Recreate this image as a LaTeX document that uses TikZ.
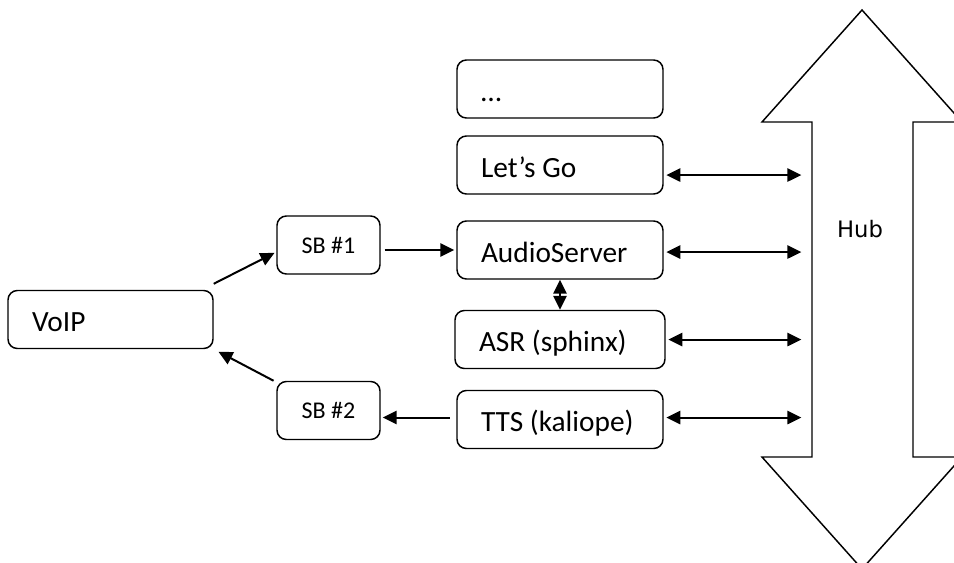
\documentclass[tikz,border=0pt]{standalone}
\usepackage{fontspec}
\setmainfont{Carlito}
\newfontfamily\hubfont{DejaVu Sans}
\usetikzlibrary{positioning, arrows.meta}

\tikzset{
  box/.style={draw, line width=1.1pt, rounded corners=7pt, minimum height=43.5pt, inner ysep=0pt},
  modbox/.style={box, text width=#1, inner xsep=18pt, text height=20pt, text depth=2pt,
    font=\fontsize{22}{26}\selectfont, execute at begin node={\spaceskip=0.226em\relax}},
  modbox/.default=118.5pt,
  sbbox/.style={box, minimum width=77.25pt, font=\fontsize{18}{21}\selectfont},
  conn/.style={line width=1.5pt, -{Triangle[length=10.5pt,width=10pt]}},
  biconn/.style={line width=1.5pt, {Triangle[length=10.5pt,width=10pt]}-{Triangle[length=10.5pt,width=10pt]}}
}

\begin{document}
\begin{tikzpicture}[x=0.75pt, y=-0.75pt]
    \useasboundingbox (0,0) rectangle (954,562);
    \clip (0,0) rectangle (954,562);

    % hub (double arrow)
    \draw[line width=1.1pt, line join=miter]
      (862,10) -- (962,122) -- (913,122) -- (913,457) -- (962,457) -- (862,569)
      -- (762,457) -- (812,457) -- (812,122) -- (762,122) -- cycle;
    \node[font=\hubfont\fontsize{17}{20}\selectfont] (hub) at (860,229.5) {Hub};
    \coordinate (hubl) at (812,122);

    % modules
    \node[modbox] (dots) at (560,89) {…};
    \node[modbox] (lg) at (560,165) {Let’s Go};
    \node[modbox] (audio) at (560,250) {AudioServer};
    \node[modbox=121.5pt] (asr) at (560,339.5) {ASR (sphinx)};
    \node[modbox] (tts) at (560,419.5) {TTS (kaliope)};

    \node[modbox=117.75pt] (voip) at (110.5,319.5) {VoIP};
    \node[sbbox] (sb1) at (328.5,245) {SB \#1};
    \node[sbbox] (sb2) at (328.5,410.5) {SB \#2};

    % connectors
    \draw[conn, shorten >=1.5pt] ([yshift=4.5pt]voip.north east) -- ([yshift=-5.25pt]sb1.west);
    \draw[conn, shorten >=4pt] ([xshift=-2pt]sb2.north west) -- (voip.south east);
    \draw[conn, shorten <=3pt, shorten >=1.5pt] (sb1.east |- audio.west) -- (audio.west);
    \draw[conn, shorten <=5pt, shorten >=1.5pt] ([yshift=1.5pt]tts.west) -- ([yshift=1.5pt]tts.west -| sb2.east);
    \draw[biconn] (audio.south) -- (asr.north);
    \foreach \n/\dy in {lg/-7.5pt, audio/-1.5pt, asr/0pt, tts/1.5pt} {
      \draw[biconn, shorten <=2pt, shorten >=8pt]
        ([yshift=\dy]\n.east) -- ([yshift=\dy]\n.east -| hubl);
    }
\end{tikzpicture}
\end{document}
